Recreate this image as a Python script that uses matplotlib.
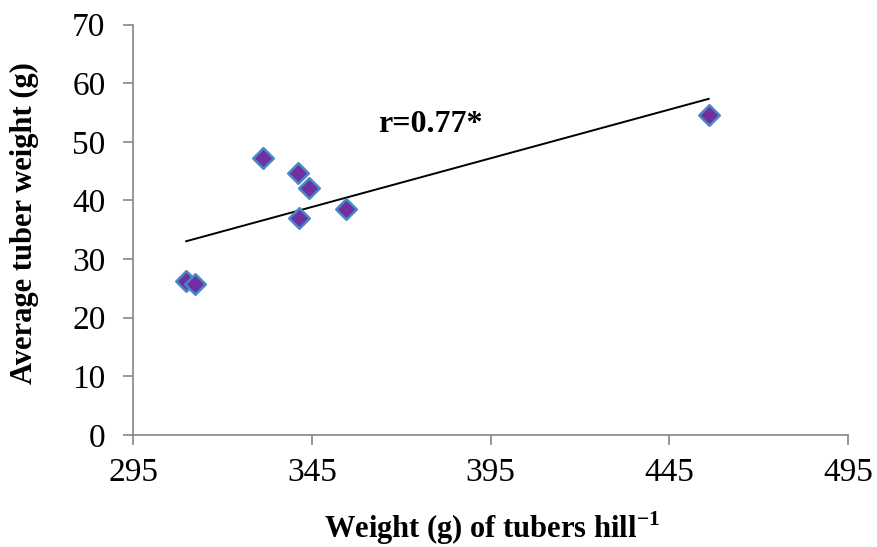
import numpy as np
import matplotlib
matplotlib.use("Agg")
import matplotlib.pyplot as plt

plt.rcParams['font.family'] = ['Liberation Serif', 'DejaVu Serif']
plt.rcParams['mathtext.fontset'] = 'custom'
plt.rcParams['mathtext.rm'] = 'Liberation Serif'
plt.rcParams['mathtext.bf'] = 'Liberation Serif:bold'

# tuber weight per hill (g) vs average tuber weight (g)
weight_hill = [309.8, 312.3, 331.4, 341.1, 344.2, 341.3, 354.6, 456.0]
avg_tuber = [26.3, 25.7, 47.3, 44.6, 42.2, 37.0, 38.5, 54.6]
r_label = "r=0.77*"
x_ticks = [295, 345, 395, 445, 495]
y_ticks = [0, 10, 20, 30, 40, 50, 60, 70]

x = np.array(weight_hill)
y = np.array(avg_tuber)

fig = plt.figure(figsize=(8.77, 5.47), dpi=100)
ax = fig.add_axes([0.152, 0.205, 0.815, 0.75])

ax.scatter(x, y, marker='D', s=110, facecolor='#7030A0', edgecolor='#4A86C8',
           linewidth=1.8, zorder=3)

# linear trend line over the data range
m, b = np.polyfit(x, y, 1)
xs = np.array([x.min(), x.max()])
ax.plot(xs, m * xs + b, color='black', linewidth=1.4, zorder=2)

ax.text(363.5, 52.9, r_label, fontsize=23, fontweight='bold', ha='left', va='center')

ax.set_xlim(295, 495)
ax.set_ylim(0, 70)
ax.set_xticks(x_ticks)
ax.set_yticks(y_ticks)
ax.tick_params(labelsize=24, color='#868686', length=7, width=1.2)
ax.tick_params(axis='x', pad=9)
ax.tick_params(axis='y', pad=13)
for s in ['top', 'right']:
    ax.spines[s].set_visible(False)
for s in ['left', 'bottom']:
    ax.spines[s].set_color('#868686')
    ax.spines[s].set_linewidth(1.2)

ax.set_ylabel("Average tuber weight (g)", fontsize=22, fontweight='bold', va='center')
ax.set_xlabel(r"Weight (g) of tubers hill$^{\mathbf{-1}}$", fontsize=22,
              fontweight='bold', va='center')
ax.yaxis.set_label_coords(-0.152, 0.516)
ax.xaxis.set_label_coords(0.502, -0.227)

fig.savefig("out.png", dpi=100)
